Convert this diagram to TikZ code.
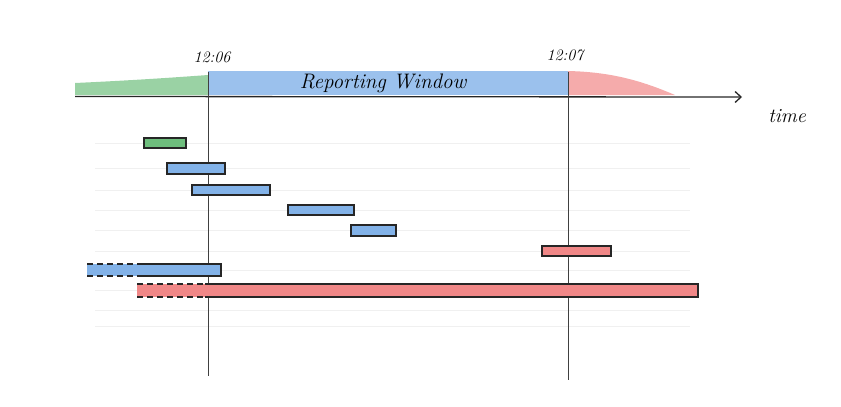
\documentclass[tikz,border=0pt]{standalone}
\usetikzlibrary{arrows.meta}
\definecolor{earlygreen}{RGB}{110,190,125}
\definecolor{windowblue}{RGB}{130,178,232}
\definecolor{latered}{RGB}{240,135,135}
\tikzset{
	paperline/.style={very thin, gray!12},
	bar/.style={draw=black!85, line width=1.5pt},
	openend/.style={draw=black!85, line width=1.5pt, dash pattern=on 6pt off 4pt},
	handtext/.style={font=\itshape\fontsize{16}{18}\selectfont},
}
\begin{document}
\begin{tikzpicture}[x=1pt,y=-1pt]
		\useasboundingbox (0,0) rectangle (841,407);
		% ruled paper
		\foreach \y in {143,168,190,210,230,251,270,290,310,326} {
			\draw[paperline] (95,\y) -- (690,\y);
		}
		% coloured bands over the axis
		\fill[earlygreen!70] (75,83) .. controls (140,80) and (180,77) .. (208,75) -- (208,95) -- (75,95) -- cycle;
		\fill[windowblue!80] (208,71) -- (568,71) -- (568,95) -- (208,95) -- cycle;
		\fill[latered!70] (568,71) .. controls (610,72) and (640,80) .. (675,95) -- (568,95) -- cycle;
		% axis and markers
		\coordinate (t0) at (75,96.5);
		\coordinate (t1) at (742,97);
		\coordinate (s) at (208,72);
		\coordinate (s') at (208,376);
		\coordinate (e) at (568,72);
		\coordinate (e') at (568,380);
		\draw[line width=1.3pt, black!85, -{Straight Barb[length=6pt,width=11pt]}] (t0) -- (t1);
		\draw[line width=0.8pt, black!75] (s) -- (s');
		\draw[line width=0.8pt, black!75] (e) -- (e');
		\node[handtext, font=\itshape\fontsize{20}{22}\selectfont] (time) at (787,116) {time};
		\node[handtext] (start) at (212,57) {12:06};
		\node[handtext] (end) at (565,55) {12:07};
		\node[handtext, font=\itshape\fontsize{21}{24}\selectfont] (window) at (383,83) {Reporting Window};
		% requests
		\filldraw[bar, fill=earlygreen] (144,138) rectangle (186,148);
		\filldraw[bar, fill=windowblue] (167,163) rectangle (225,174);
		\filldraw[bar, fill=windowblue] (192,185) rectangle (270,195);
		\filldraw[bar, fill=windowblue] (288,205) rectangle (354,215);
		\filldraw[bar, fill=windowblue] (351,225) rectangle (396,236);
		\filldraw[bar, fill=latered] (542,246) rectangle (611,256);
		% requests still running at the edges
		\fill[windowblue] (87,264) rectangle (221,276);
		\draw[bar] (143,264) -- (221,264) -- (221,276) -- (143,276);
		\draw[openend] (87,264) -- (143,264);
		\draw[openend] (87,276) -- (143,276);
		\fill[latered] (137,284) rectangle (698,297);
		\draw[bar] (205,284) -- (698,284) -- (698,297) -- (205,297);
		\draw[openend] (137,284) -- (205,284);
		\draw[openend] (137,297) -- (205,297);
	\end{tikzpicture}
\end{document}
